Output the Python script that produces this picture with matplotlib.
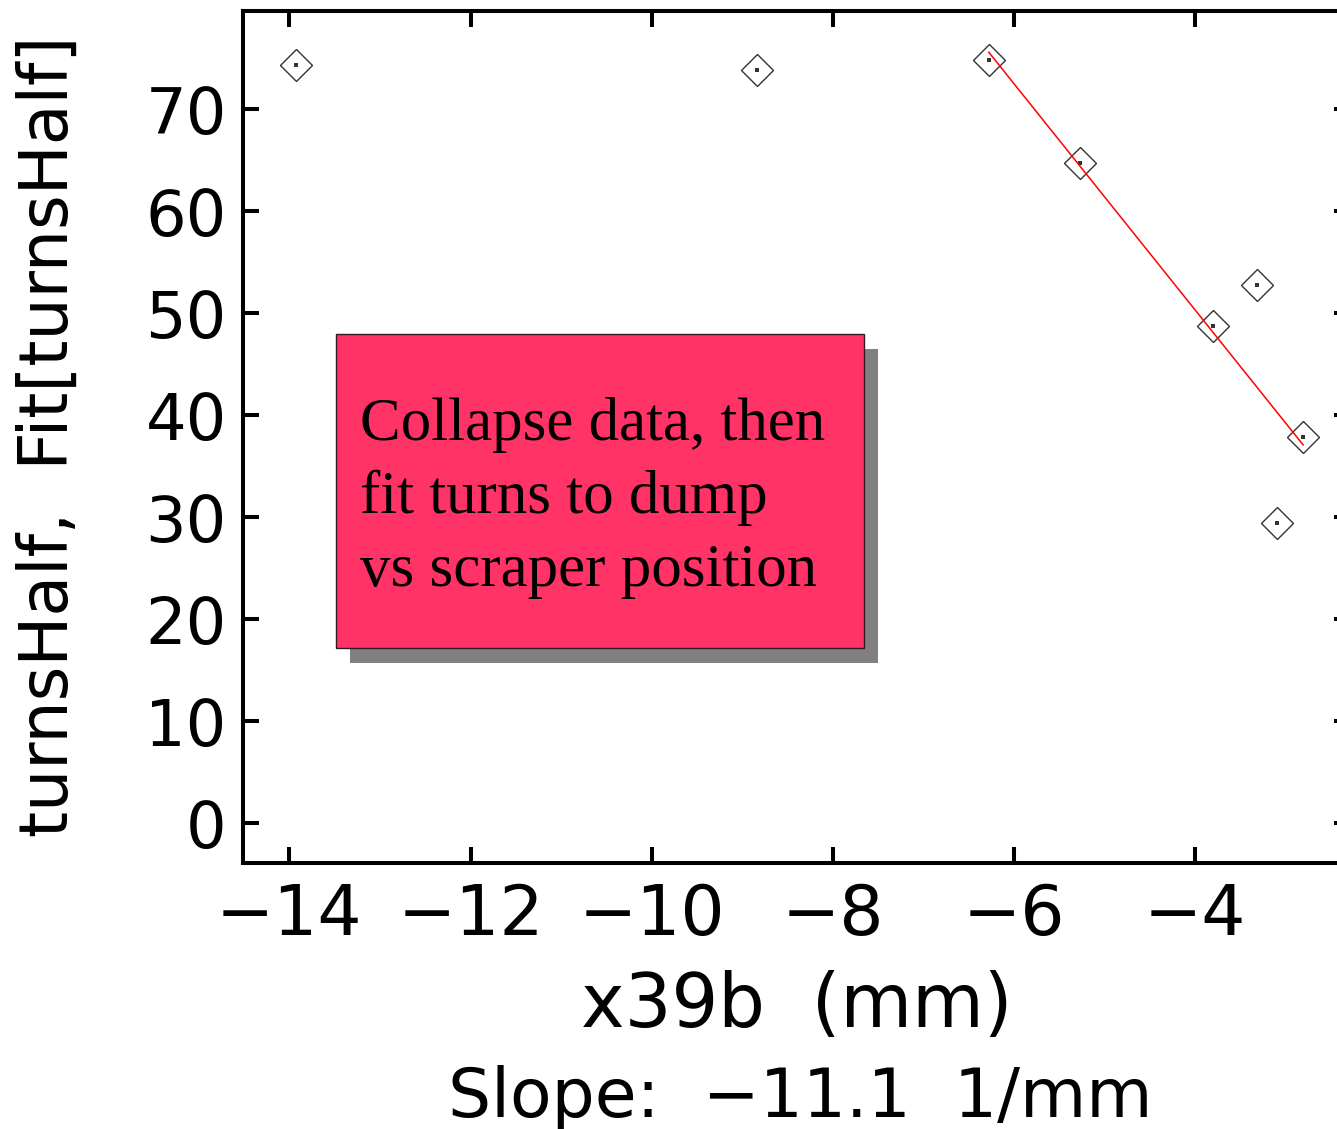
import matplotlib
matplotlib.use("Agg")
import matplotlib.pyplot as plt
from matplotlib.patches import Rectangle

# measured data points (scraper position vs turns to half intensity)
x39b = [-13.93, -8.84, -6.28, -5.27, -3.32, -3.80, -2.81, -3.10]
turns_half = [74.3, 73.9, 74.8, 64.7, 52.8, 48.8, 37.9, 29.4]

# linear fit over the collapsed part
fit_x = [-6.28, -2.81]
fit_y = [75.6, 37.1]

x_ticks = [-14, -12, -10, -8, -6, -4]
y_ticks = [0, 10, 20, 30, 40, 50, 60, 70]

W, H = 1337, 1129
plt.rcParams['font.family'] = ['DejaVu Sans']

fig = plt.figure(figsize=(W / 100, H / 100), dpi=100)
ax = fig.add_axes([243.3 / W, 1 - 862.7 / H, (1350 - 243.3) / W, (862.7 - 10.7) / H])

ax.plot(fit_x, fit_y, color='red', lw=1.1, zorder=3)
ax.plot(x39b, turns_half, ls='none', marker='D', ms=15.8, mfc='none',
        mec='#333333', mew=1.0, zorder=2)
ax.plot(x39b, turns_half, ls='none', marker='s', ms=2.2, mfc='#333333',
        mec='#333333', mew=0, zorder=2)

ax.set_xlim(-14.508, -2.293)
ax.set_ylim(-3.86, 79.67)
ax.set_xticks(x_ticks)
ax.set_yticks(y_ticks)

for s in ax.spines.values():
    s.set_linewidth(2.9)
ax.tick_params(direction='in', length=11.5, width=2.9, top=True, right=True)
ax.tick_params(axis='x', labelsize=50, pad=14)
ax.tick_params(axis='y', labelsize=46, pad=12)

fig.text(797 / W, 1 - 1026.7 / H, 'x39b  (mm)', fontsize=53,
         ha='center', va='baseline')
fig.text(800 / W, 1 - 1116.7 / H, 'Slope:  \u221211.1  1/mm', fontsize=49,
         ha='center', va='baseline')
fig.text(68 / W, 1 - 436.5 / H, 'turnsHalf,  Fit[turnsHalf]', fontsize=48,
         rotation=90, rotation_mode='anchor', ha='center', va='baseline')

# annotation box with drop shadow
fig.add_artist(Rectangle((350 / W, 1 - 663 / H), 528 / W, 314 / H,
                         transform=fig.transFigure, facecolor='#808080',
                         edgecolor='none', zorder=5))
fig.add_artist(Rectangle((335.5 / W, 1 - 648 / H), 528 / W, 314 / H,
                         transform=fig.transFigure, facecolor='#ff3366',
                         edgecolor='#331a22', lw=1.0, zorder=6))
box_lines = ['Collapse data, then', 'fit turns to dump', 'vs scraper position']
for i, line in enumerate(box_lines):
    fig.text(360 / W, 1 - (440 + 73 * i) / H, line, fontsize=43.8,
             family='Liberation Serif', ha='left', va='baseline', zorder=7)

fig.savefig('out.png', dpi=100)
